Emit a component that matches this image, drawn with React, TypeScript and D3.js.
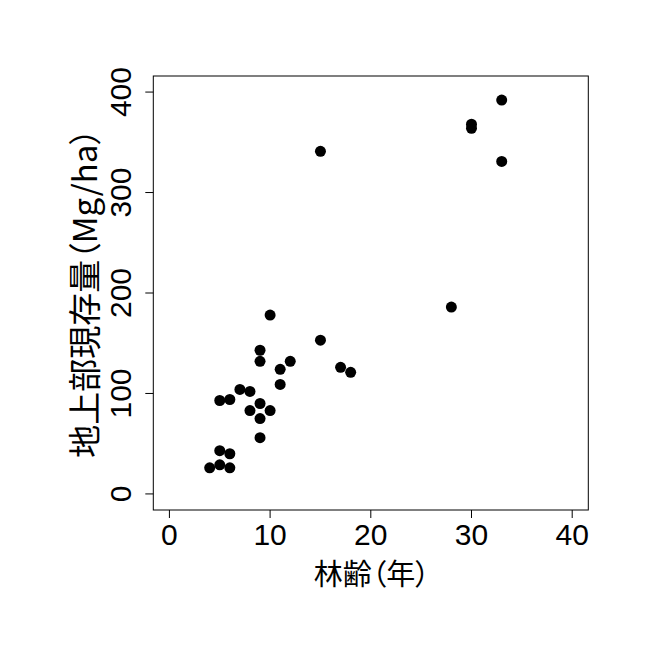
import React from "react";
import * as d3 from "d3";

const standAge: number[] = [4, 5, 5, 5, 6, 6, 6, 7, 8, 8, 9, 9, 9, 9, 9, 10, 10, 11, 11, 12, 15, 15, 17, 18, 28, 30, 30, 33, 33];
const biomass: number[] = [26, 29, 43, 93, 26, 40, 94, 104, 102, 83, 56, 75, 90, 132, 143, 83, 178, 109, 124, 132, 153, 341, 126, 121, 186, 368, 364, 392, 331];
const xTicks: number[] = [0, 10, 20, 30, 40];
const yTicks: number[] = [0, 100, 200, 300, 400];
const xLabel = "林齢（年）";
const yLabel = "地上部現存量（Mg/ha）";

export default function App() {
  const W = 665, H = 664;
  const left = 153.3, right = 588.3, top = 76, bottom = 510;
  const x = d3.scaleLinear().domain([-1.6, 41.6]).range([left, right]);
  const y = d3.scaleLinear().domain([-16, 416]).range([bottom, top]);
  const pts = standAge.map((a, i) => ({ a, b: biomass[i] }));
  const sans = "'Liberation Sans', Arial, sans-serif";
  const cjk = "'Noto Sans CJK JP', 'Liberation Sans', sans-serif";
  return (
    <svg width={W} height={H} style={{ position: "absolute", left: 0, top: 0, background: "#fff" }}>
      <rect x={0} y={0} width={W} height={H} fill="#fff" />
      <rect x={left} y={top} width={right - left} height={bottom - top} fill="none" stroke="#000" strokeWidth={1} />
      {xTicks.map((t) => (
        <g key={"x" + t}>
          <line x1={x(t)} x2={x(t)} y1={bottom} y2={bottom + 8} stroke="#000" />
          <text x={x(t)} y={534} textAnchor="middle" dominantBaseline="central" fontFamily={sans} fontSize={30}>{t}</text>
        </g>
      ))}
      {yTicks.map((t) => (
        <g key={"y" + t}>
          <line x1={left} x2={left - 8} y1={y(t)} y2={y(t)} stroke="#000" />
          <text transform={`translate(120,${y(t)}) rotate(-90)`} textAnchor="middle" dominantBaseline="central" fontFamily={sans} fontSize={30}>{t}</text>
        </g>
      ))}
      <text x={(left + right) / 2 + 1} y={572} textAnchor="middle" dominantBaseline="central" fontFamily={cjk} fontSize={29} style={{ fontFeatureSettings: "'palt'" }}>{xLabel}</text>
      <text transform={`translate(82.5,${(top + bottom) / 2}) rotate(-90)`} textAnchor="middle" dominantBaseline="central" fontFamily={cjk} fontSize={33} style={{ fontFeatureSettings: "'palt'" }}>{yLabel}</text>
      {pts.map((p, i) => (
        <circle key={i} cx={x(p.a)} cy={y(p.b)} r={5.5} fill="#000" />
      ))}
    </svg>
  );
}
